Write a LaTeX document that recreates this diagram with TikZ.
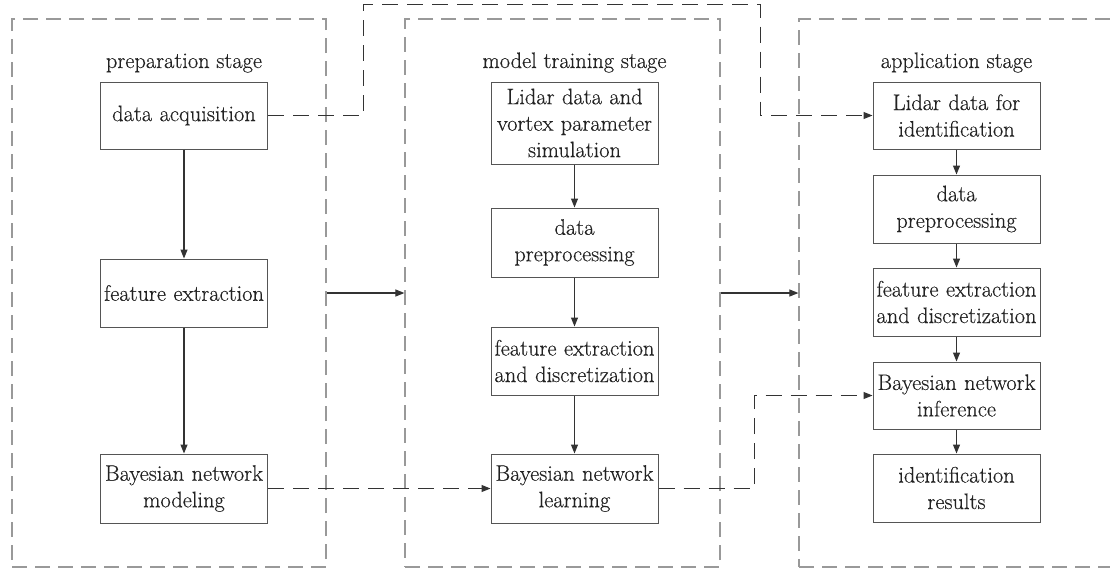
\documentclass[tikz,border=0pt]{standalone}
\usepackage{fontspec}
\setmainfont{Latin Modern Roman}[FakeBold=0.3]
\usetikzlibrary{arrows.meta}
\definecolor{boxline}{HTML}{555555}
\definecolor{txt}{HTML}{222222}
\definecolor{stageline}{HTML}{999999}
\definecolor{link}{HTML}{333333}
\tikzset{
  every node/.style={text=txt},
  stepbox/.style={draw=boxline, line width=1pt, align=center, inner sep=0pt,
    minimum width=167pt, text width=167pt,
    font=\fontsize{22.4}{26.5}\selectfont},
  stage/.style={draw=stageline, line width=1.2pt, dash pattern=on 15pt off 8pt,
    minimum height=548pt, inner sep=0pt},
  stagetitle/.style={anchor=base, font=\fontsize{22.4}{26.5}\selectfont},
  flow/.style={draw=link, line width=1.1pt, -{Triangle[length=9pt,width=7pt]}},
  dflow/.style={draw=link, line width=1pt, dash pattern=on 16pt off 9pt,
    -{Triangle[length=9pt,width=7pt]}}
}
\begin{document}
\begin{tikzpicture}[x=1pt, y=-1pt]
\clip (0,0) rectangle (1110,571);
\fill[white] (0,0) rectangle (1110,571);

% stage frames
\node[stage, minimum width=314pt] (c1) at (169,293) {};
\node[stage, minimum width=315pt] (c2) at (562.5,293) {};
\node[stage, minimum width=330pt] (c3) at (964,293) {};

% stage titles
\node[stagetitle] (t1) at (184,68) {preparation stage};
\node[stagetitle] (t2) at (574.5,68) {model training stage};
\node[stagetitle] (t3) at (956.5,68) {application stage};

% preparation stage
\node[stepbox, minimum height=67pt] (da)  at (184,115.5) {data acquisition};
\node[stepbox, minimum height=68pt] (fe1) at (184,293) {feature extraction};
\node[stepbox, minimum height=69pt] (bm)  at (184,488.5) {Bayesian network\\modeling};

% model training stage
\node[stepbox, minimum height=82pt] (ld)  at (574.5,123) {Lidar data and\\vortex parameter\\simulation};
\node[stepbox, minimum height=69pt] (dp2) at (574.5,242.5) {data\\preprocessing};
\node[stepbox, minimum height=68pt] (fe2) at (574.5,361) {feature extraction\\and discretization};
\node[stepbox, minimum height=69pt] (bl)  at (574.5,488.5) {Bayesian network\\learning};

% application stage
\node[stepbox, minimum height=67pt] (li)  at (956.5,115.5) {Lidar data for\\identification};
\node[stepbox, minimum height=68pt] (dp3) at (956.5,209) {data\\preprocessing};
\node[stepbox, minimum height=68pt] (fe3) at (956.5,302) {feature extraction\\and discretization};
\node[stepbox, minimum height=67pt] (bi)  at (956.5,395.5) {Bayesian network\\inference};
\node[stepbox, minimum height=68pt] (ir)  at (956.5,488) {identification\\results};

% vertical flows
\draw[flow] (da) -- (fe1);
\draw[flow] (fe1) -- (bm);
\draw[flow] (ld) -- (dp2);
\draw[flow] (dp2) -- (fe2);
\draw[flow] (fe2) -- (bl);
\draw[flow] (li) -- (dp3);
\draw[flow] (dp3) -- (fe3);
\draw[flow] (fe3) -- (bi);
\draw[flow] (bi) -- (ir);

% stage to stage
\draw[flow] (c1.east) -- (c2.west);
\draw[flow] (c2.east) -- (c3.west);

% dashed data links
\coordinate (ua) at (363,4.5);
\coordinate (ub) at (760,4.5);
\draw[dflow] (da.east) -| (ua) -- (ub) |- (li.west);
\draw[dflow] (bm.east) -- (bl.west);
\coordinate (lb) at (754,488.5);
\draw[dflow] (bl.east) -- (lb) |- (bi.west);
\end{tikzpicture}
\end{document}
